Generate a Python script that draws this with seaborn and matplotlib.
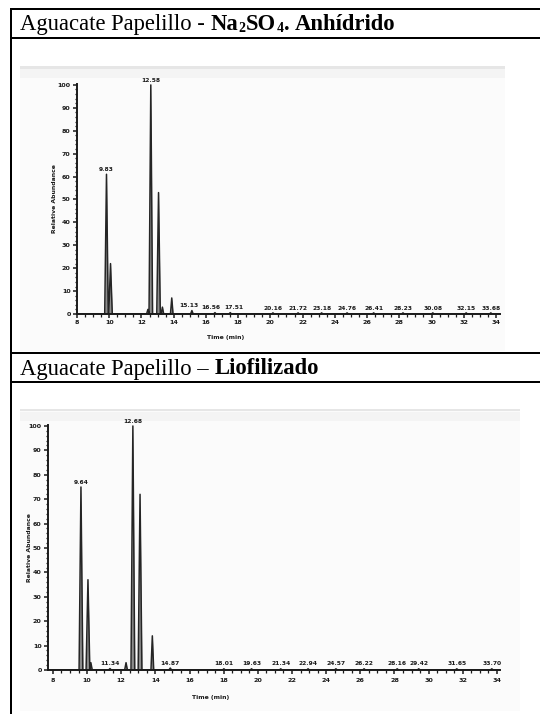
import matplotlib
matplotlib.use("Agg")
import matplotlib.pyplot as plt
from matplotlib.patches import Rectangle
from matplotlib.lines import Line2D
from matplotlib.ticker import MultipleLocator
import pandas as pd
import seaborn as sns

W, H, DPI = 540, 714, 100

# ---- Chromatogram 1: Na2SO4 anhidro ----
na_rt = [9.83, 10.08, 12.40, 12.58, 13.06, 13.30, 13.88, 15.13, 16.56, 17.51,
         20.16, 21.72, 23.18, 24.76, 26.41, 28.23, 30.08, 32.15, 33.68]
na_abund = [61, 22, 2, 100, 53, 3, 7, 1.5, 0.6, 0.6,
            0.5, 0.5, 0.5, 0.5, 0.5, 0.5, 0.5, 0.5, 0.5]
na_labeled = [True, False, False, True, False, False, False, True, True, True,
              True, True, True, True, True, True, True, True, True]

# ---- Chromatogram 2: liofilizado ----
lio_rt = [9.64, 10.05, 10.22, 11.34, 12.28, 12.68, 13.10, 13.82, 14.87, 18.01,
          19.63, 21.34, 22.94, 24.57, 26.22, 28.16, 29.42, 31.65, 33.70]
lio_abund = [75, 37, 3, 0.6, 3, 100, 72, 14, 0.8, 0.5,
             0.5, 0.5, 0.5, 0.5, 0.5, 0.5, 0.5, 0.5, 0.5]
lio_labeled = [True, False, False, True, False, True, False, False, True, True,
               True, True, True, True, True, True, True, True, True]

y_ticks = [0, 10, 20, 30, 40, 50, 60, 70, 80, 90, 100]
x_ticks = [8, 10, 12, 14, 16, 18, 20, 22, 24, 26, 28, 30, 32, 34]

sns.set_style("ticks")
plt.rcParams["font.family"] = ["DejaVu Sans"]

fig = plt.figure(figsize=(W / DPI, H / DPI), dpi=DPI)
fig.patch.set_facecolor("white")

INK = "#1a1a1a"


def fx(x):
    return x / W


def fy(y):
    return 1 - y / H


def trace_frame(rts, abund, x0, x1):
    """Polyline of the chromatogram: each peak is a narrow spike on a flat baseline."""
    t, a = [x0], [0.0]
    for rt, h in zip(rts, abund):
        hw = 0.11 if h >= 20 else 0.08
        t += [rt - hw, rt, rt + hw]
        a += [0.0, h, 0.0]
    t.append(x1)
    a.append(0.0)
    return pd.DataFrame({"Time (min)": t, "Relative Abundance": a})


def chromatogram(box, xlim, ylim, rts, abund, labeled, ylab_x, xlab_xy,
                 label_shift=None, xpad=1.5):
    left, top, right, bottom = box
    label_shift = label_shift or {}
    ax = fig.add_axes([fx(left), fy(bottom), fx(right - left), (bottom - top) / H])
    ax.set_facecolor("none")
    df = trace_frame(rts, abund, xlim[0], xlim[1])
    ax.fill_between(df["Time (min)"], df["Relative Abundance"], 0,
                    color="#8c8c8c", lw=0, zorder=1)
    sns.lineplot(data=df, x="Time (min)", y="Relative Abundance", ax=ax,
                 sort=False, color="#252525", lw=1.1, zorder=2)
    ax.set_xlim(*xlim)
    ax.set_ylim(*ylim)
    ax.set_xticks(x_ticks)
    ax.set_yticks(y_ticks)
    ax.xaxis.set_minor_locator(MultipleLocator(0.5))
    ax.yaxis.set_minor_locator(MultipleLocator(2))
    for s in ("top", "right"):
        ax.spines[s].set_visible(False)
    for s in ("left", "bottom"):
        ax.spines[s].set_linewidth(1.4)
        ax.spines[s].set_color(INK)
    ax.tick_params(which="major", length=3.0, width=1.1, color=INK,
                   labelsize=4.6, pad=1.5, labelcolor=INK)
    ax.tick_params(axis="x", which="major", pad=xpad)
    ax.tick_params(which="minor", length=1.8, width=0.9, color=INK)
    for lab in ax.get_xticklabels() + ax.get_yticklabels():
        lab.set_fontweight("bold")
    ax.set_ylabel("Relative Abundance", fontsize=4.4, fontweight="bold",
                  color=INK)
    ax.yaxis.set_label_coords((ylab_x - left) / (right - left), 0.5)
    ax.set_xlabel("Time (min)", fontsize=4.4, fontweight="bold", color=INK)
    ax.xaxis.set_label_coords((xlab_xy[0] - left) / (right - left),
                              (bottom - xlab_xy[1]) / (bottom - top))
    ax.xaxis.label.set_va("center")
    for rt, h, show in zip(rts, abund, labeled):
        if show:
            ax.text(rt + label_shift.get(rt, 0.0), h + 1.0, f"{rt:.2f}",
                    ha="center", va="bottom", fontsize=4.3, fontweight="bold",
                    color=INK, clip_on=False)
    return ax


def image_panel(x0, y0, x1, y1):
    fig.add_artist(Rectangle((fx(x0), fy(y1)), fx(x1 - x0), (y1 - y0) / H,
                             transform=fig.transFigure, facecolor="#fbfbfb",
                             edgecolor="none", zorder=0))
    fig.add_artist(Rectangle((fx(x0), fy(y0 + 2.5)), fx(x1 - x0), 2.5 / H,
                             transform=fig.transFigure, facecolor="#e6e6e6",
                             edgecolor="none", zorder=0))
    fig.add_artist(Rectangle((fx(x0), fy(y0 + 12)), fx(x1 - x0), 9.5 / H,
                             transform=fig.transFigure, facecolor="#f4f4f4",
                             edgecolor="none", zorder=0))


image_panel(20, 66, 505, 351)
image_panel(20, 409, 520, 711)

chromatogram((77, 84, 500, 314), (8, 34.25), (0, 100.4),
             na_rt, na_abund, na_labeled, 57, (226, 337),
             label_shift={15.13: -0.2, 16.56: -0.25, 17.51: 0.2})
chromatogram((48, 425, 500, 670), (7.71, 34.18), (0, 100.4),
             lio_rt, lio_abund, lio_labeled, 32, (211, 697), xpad=3.0)

# ---- table rules ----
def hline(y, x0=10, x1=W, lw=2.0):
    fig.add_artist(Line2D([fx(x0), fx(x1)], [fy(y), fy(y)], color="black",
                          lw=lw * 72 / DPI, transform=fig.transFigure,
                          solid_capstyle="butt"))


hline(9.3)
hline(37.7)
hline(353.2)
hline(381.8)
fig.add_artist(Line2D([fx(11.2), fx(11.2)], [fy(8.3), fy(H)], color="black",
                      lw=2.0 * 72 / DPI, transform=fig.transFigure,
                      solid_capstyle="butt"))

# ---- cell headings ----
renderer = fig.canvas.get_renderer()
SERIF = ["Liberation Serif", "DejaVu Serif"]
HEAD = 16.3


def heading(x, y, pieces):
    cx = x
    for text, weight, size, dy, gap in pieces:
        t = fig.text(fx(cx), fy(y + dy), text, ha="left", va="baseline",
                     fontsize=size, fontweight=weight, family=SERIF,
                     color="black")
        cx += t.get_window_extent(renderer=renderer).width + gap


sp = HEAD * DPI / 72 * 0.25
heading(20, 30, [
    ("Aguacate Papelillo -", "normal", HEAD, 0, sp),
    ("Na", "bold", HEAD, 0, 0.3),
    ("2", "bold", HEAD * 0.62, 1.5, 0.3),
    ("SO", "bold", HEAD, 0, 0.3),
    ("4", "bold", HEAD * 0.62, 1.5, 0.3),
    (".", "bold", HEAD, 0, sp),
    ("Anhídrido", "bold", HEAD, 0, 0),
])
heading(20, 374.5, [
    ("Aguacate Papelillo \u2013", "normal", HEAD, 0, sp),
    ("Liofilizado", "bold", HEAD, 0, 0),
])

fig.savefig("out.png", dpi=DPI, facecolor="white")
